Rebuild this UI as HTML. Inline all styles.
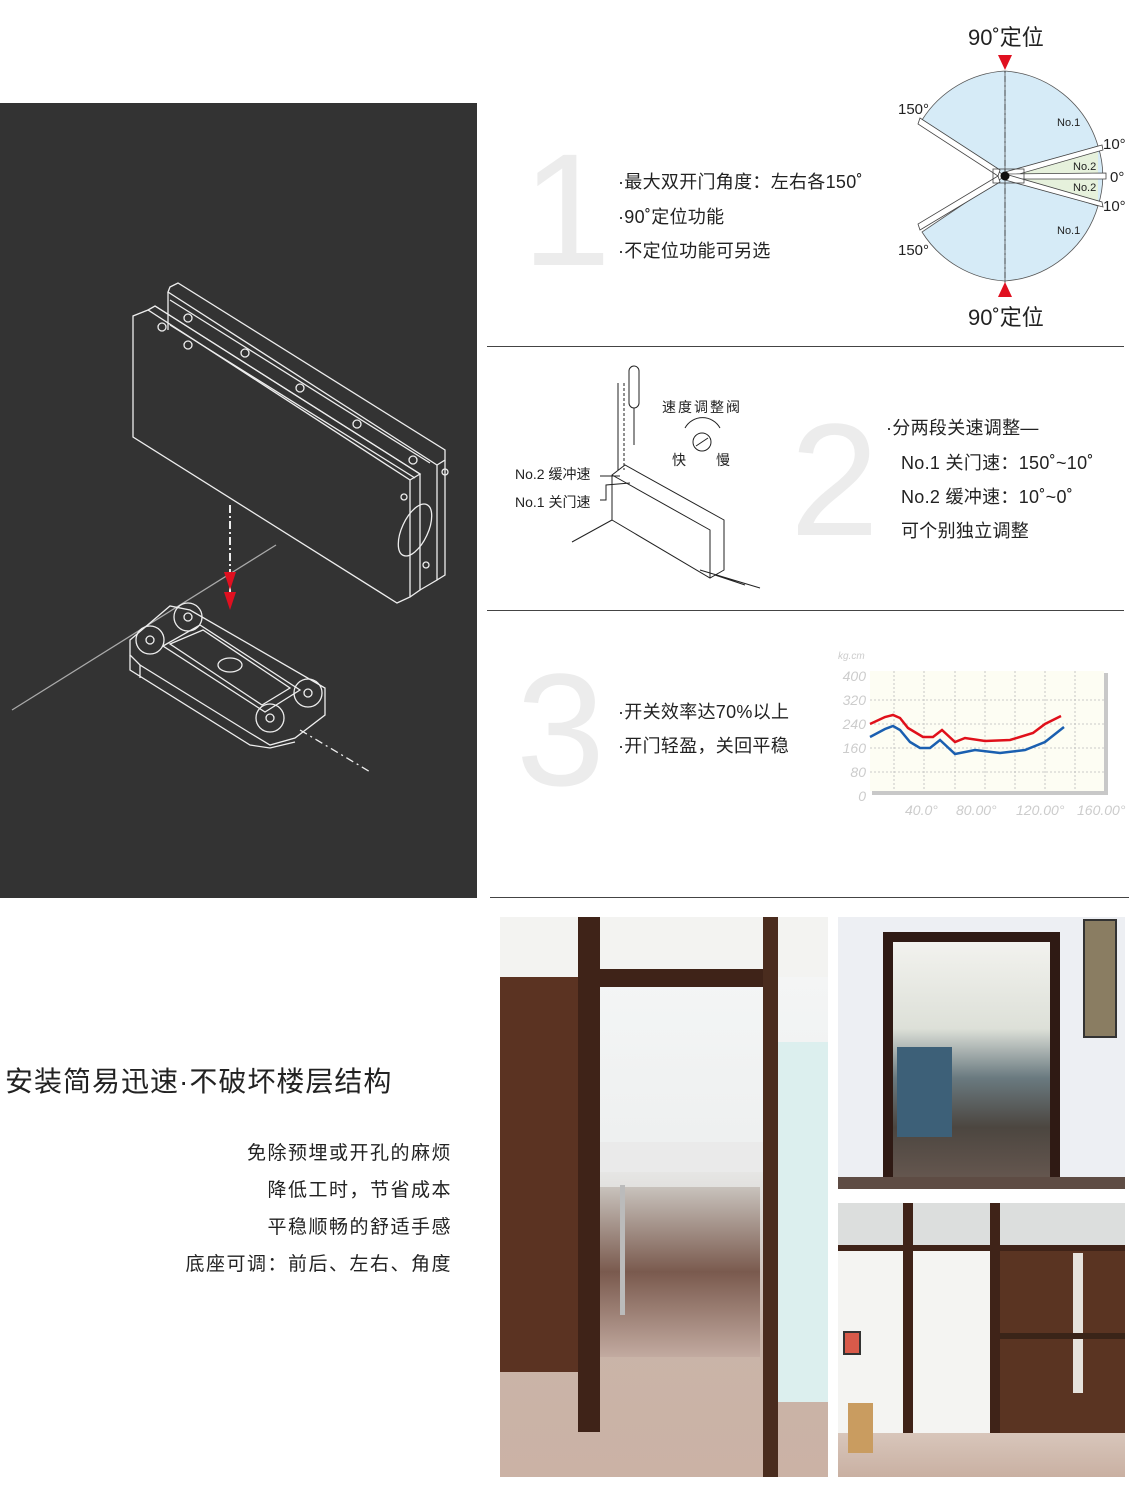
<!DOCTYPE html>
<html><head><meta charset="utf-8"><style>
body{margin:0;width:1129px;height:1501px;background:#fff;position:relative;overflow:hidden;font-family:"Liberation Sans","Noto Sans CJK SC",sans-serif;color:#222}
.a{position:absolute;white-space:nowrap}
.big{font-family:"Liberation Sans",sans-serif;font-weight:300;color:#ececec;font-size:160px;line-height:1}
.t{font-size:18px;letter-spacing:0.3px}
</style></head><body>
<div class="a" style="left:0;top:103px;width:477px;height:795px;background:#333"></div>
<svg class="a" style="left:0;top:103px" width="477" height="795" viewBox="0 103 477 795" fill="none" stroke="#eee" stroke-width="1.3">
<path d="M133 316 L133 437 L397 603 L410 597 L410 480 L148 310 L133 316 Z"/>
<path d="M148 310 L155 306 L420 474 L410 480"/>
<path d="M155 306 L420 474 L420 590 L410 597"/>
<path d="M170 287 L178 283 L445 450 L445 460 L437 465 L168 292 Z"/>
<path d="M168 292 L168 330 M437 465 L437 580 L420 590"/>
<path d="M445 460 L445 575 L437 580"/>
<path d="M170 300 L430 463 M170 325 L415 478"/>
<circle cx="188" cy="318" r="4"/><circle cx="245" cy="353" r="4"/><circle cx="300" cy="388" r="4"/><circle cx="357" cy="424" r="4"/><circle cx="413" cy="460" r="4"/>
<circle cx="162" cy="327" r="4"/><circle cx="188" cy="345" r="4"/><circle cx="445" cy="472" r="3"/><circle cx="404" cy="497" r="3"/><circle cx="426" cy="565" r="3"/>
<ellipse cx="415" cy="530" rx="13" ry="28" transform="rotate(25 415 530)"/>
<path d="M230 505 L230 600" stroke-dasharray="8 3 2 3" stroke-width="2"/>
<path d="M12 710 L276 545" stroke="#aaa"/>
<path d="M300 730 L372 773" stroke-dasharray="8 4 2 4"/>
<path d="M130 640 L170 606 L190 610 L325 688 L325 715 L295 738 L270 745 L250 733 L140 665 L130 655 Z"/>
<path d="M163 646 L200 625 L300 690 L265 712 Z M170 644 L203 630 L290 688 L262 705 Z"/>
<ellipse cx="230" cy="665" rx="12" ry="7"/>
<circle cx="150" cy="640" r="14"/><circle cx="150" cy="640" r="4"/>
<circle cx="188" cy="617" r="14"/><circle cx="188" cy="617" r="4"/>
<circle cx="308" cy="693" r="14"/><circle cx="308" cy="693" r="4"/>
<circle cx="270" cy="718" r="14"/><circle cx="270" cy="718" r="4"/>
<path d="M130 655 L130 670 L250 745 L270 748 L295 742 M140 665 L140 678"/>
<polygon points="224,572 236,572 230,590" fill="#e01020" stroke="none"/>
<polygon points="224,592 236,592 230,610" fill="#e01020" stroke="none"/>
</svg>

<!-- section 1 -->
<div class="a big" style="left:522px;top:130px">1</div>
<div class="a t" style="left:618px;top:168px">·最大双开门角度：左右各150˚</div>
<div class="a t" style="left:618px;top:203px">·90˚定位功能</div>
<div class="a t" style="left:618px;top:237px">·不定位功能可另选</div>
<div class="a" style="left:968px;top:20px;font-size:22px">90˚定位</div>
<div class="a" style="left:968px;top:300px;font-size:22px">90˚定位</div>
<svg class="a" style="left:890px;top:40px" width="239" height="280" viewBox="890 40 239 280" font-family="Liberation Sans" font-size="14">
<path d="M1005 176 L1005 71 A105 105 0 0 0 922 120 Z M1005 176 L1005 281 A105 105 0 0 1 922 232 Z M1005 176 L1098 146 A98 98 0 0 1 1098 206 Z M1005 176 L1005 71 A105 105 0 0 1 1098 146 Z M1005 176 L1005 281 A105 105 0 0 0 1098 206 Z" fill="#d6ebf7" stroke="#555" stroke-width="0.8"/>
<path d="M1005 176 L1098 148 L1098 204 Z" fill="#e6f1dc"/>
<path d="M1005 62 L1005 290" stroke="#333" stroke-dasharray="6 3 2 3" stroke-width="0.8"/>
<g fill="#fff" stroke="#444" stroke-width="0.8">
<polygon points="1000,170 920,118 918,124 998,176"/>
<polygon points="1000,182 920,230 918,224 998,176"/>
<polygon points="1005,172 1102,145 1103,150 1005,178"/>
<polygon points="1005,174 1106,173 1106,179 1005,179"/>
<polygon points="1005,174 1102,202 1103,207 1005,180"/>
<rect x="993" y="169" width="31" height="14" fill="none"/>
</g>
<circle cx="1005" cy="176" r="4.5" fill="#111"/>
<polygon points="998,55 1012,55 1005,70" fill="#e01020"/>
<polygon points="998,297 1012,297 1005,282" fill="#e01020"/>
<g fill="#222"><text x="898" y="114" font-size="15">150°</text><text x="898" y="255" font-size="15">150°</text>
<text x="1103" y="149" font-size="15">10°</text><text x="1110" y="182" font-size="15">0°</text><text x="1103" y="211" font-size="15">10°</text>
<text x="1057" y="126" font-size="11">No.1</text><text x="1057" y="234" font-size="11">No.1</text>
<text x="1073" y="170" font-size="11">No.2</text><text x="1073" y="191" font-size="11">No.2</text></g>
</svg>
<div class="a" style="left:487px;top:346px;width:637px;height:1px;background:#444"></div>

<!-- section 2 -->
<svg class="a" style="left:500px;top:360px" width="270" height="230" viewBox="500 360 270 230" fill="none" stroke="#222" stroke-width="1">
<path d="M618 383 L618 470" /><path d="M624 383 L624 470" stroke-dasharray="3 2"/>
<rect x="629" y="366" width="10" height="42" rx="5"/><path d="M634 408 L634 445"/>
<path d="M612 475 L625 465 L724 520 L724 570 L710 578 L612 520 Z M612 475 L710 530 L710 578 M625 465 L724 520"/>
<path d="M612 520 L572 542 M700 570 L760 588 M715 575 L745 585"/>
<path d="M685 428 A20 20 0 0 1 720 428"/><circle cx="702" cy="442" r="9"/><path d="M696 446 L708 438"/>
<path d="M600 476 L620 476 M600 500 L606 500 L606 485 L630 483"/>
</svg>
<div class="a" style="left:662px;top:397px;font-size:14px;letter-spacing:2px">速度调整阀</div>
<div class="a" style="left:672px;top:450px;font-size:14px">快</div>
<div class="a" style="left:716px;top:450px;font-size:14px">慢</div>
<div class="a" style="left:515px;top:464px;font-size:14px">No.2 缓冲速</div>
<div class="a" style="left:515px;top:492px;font-size:14px">No.1 关门速</div>
<div class="a big" style="left:790px;top:400px">2</div>
<div class="a t" style="left:886px;top:414px">·分两段关速调整—</div>
<div class="a t" style="left:901px;top:449px">No.1 关门速：150˚~10˚</div>
<div class="a t" style="left:901px;top:483px">No.2 缓冲速：10˚~0˚</div>
<div class="a t" style="left:901px;top:517px">可个别独立调整</div>
<div class="a" style="left:487px;top:610px;width:637px;height:1px;background:#444"></div>

<!-- section 3 -->
<div class="a big" style="left:516px;top:650px">3</div>
<div class="a t" style="left:618px;top:698px">·开关效率达70%以上</div>
<div class="a t" style="left:618px;top:732px">·开门轻盈，关回平稳</div>
<svg class="a" style="left:830px;top:645px" width="299" height="180" viewBox="830 645 299 180" font-family="Liberation Sans" font-style="italic" fill="#ccc">
<rect x="872" y="673" width="236" height="122" fill="#c8c8c8"/>
<rect x="870" y="671" width="234" height="120" fill="#fdfdf3"/>
<g stroke="#bbb" stroke-dasharray="2 2" stroke-width="0.8">
<path d="M870 700 H1104 M870 724 H1104 M870 748 H1104 M870 772 H1104 M894 671 V791 M924 671 V791 M955 671 V791 M985 671 V791 M1015 671 V791 M1045 671 V791 M1075 671 V791"/></g>
<path d="M870 724 L885 717 L893 715 L900 718 L908 728 L923 737 L933 737 L942 730 L955 742 L965 738 L985 741 L1010 740 L1033 733 L1045 724 L1061 716" stroke="#e0101a" stroke-width="2.5" fill="none"/>
<path d="M870 737 L885 729 L893 726 L900 730 L910 742 L920 748 L930 748 L940 740 L955 754 L975 750 L1000 753 L1025 750 L1045 742 L1064 727" stroke="#1a5fb0" stroke-width="2.5" fill="none"/>
<text x="838" y="659" font-size="10">kg.cm</text>
<g font-size="14" text-anchor="end"><text x="866" y="681">400</text><text x="866" y="705">320</text><text x="866" y="729">240</text><text x="866" y="753">160</text><text x="866" y="777">80</text><text x="866" y="801">0</text></g>
<g font-size="14"><text x="905" y="815">40.0°</text><text x="956" y="815">80.00°</text><text x="1016" y="815">120.00°</text><text x="1077" y="815">160.00°</text></g>
</svg>
<div class="a" style="left:490px;top:897px;width:639px;height:1px;background:#444"></div>

<!-- bottom left text -->
<div class="a" style="left:5px;top:1060px;font-size:28px;letter-spacing:1px">安装简易迅速·不破坏楼层结构</div>
<div class="a" style="right:677px;top:1138px;font-size:19px;letter-spacing:1.5px;text-align:right">免除预埋或开孔的麻烦</div>
<div class="a" style="right:677px;top:1175px;font-size:19px;letter-spacing:1.5px">降低工时，节省成本</div>
<div class="a" style="right:677px;top:1212px;font-size:19px;letter-spacing:1.5px">平稳顺畅的舒适手感</div>
<div class="a" style="right:677px;top:1249px;font-size:19px;letter-spacing:1.5px">底座可调：前后、左右、角度</div>

<!-- photo 1 -->
<div class="a" style="left:500px;top:917px;width:328px;height:560px;overflow:hidden;background:linear-gradient(180deg,#f6f7f7 0,#eef0f0 40%,#d8d4d0 55%,#c9b4a8 75%,#cbb2a5 100%)">
  <div class="a" style="left:0;top:0;width:328px;height:60px;background:#f3f3f1"></div>
  <div class="a" style="left:100px;top:225px;width:165px;height:30px;background:#eaeaea"></div>
  <div class="a" style="left:100px;top:270px;width:160px;height:170px;background:linear-gradient(180deg,#c8c2bc,#7a5a4e 50%,#c2aaa0)"></div>
  <div class="a" style="left:0;top:60px;width:80px;height:395px;background:#5b3322"></div>
  <div class="a" style="left:78px;top:0;width:22px;height:515px;background:#3f2318"></div>
  <div class="a" style="left:100px;top:52px;width:175px;height:18px;background:#3f2318"></div>
  <div class="a" style="left:263px;top:0;width:15px;height:560px;background:#4a2c1e"></div>
  <div class="a" style="left:278px;top:125px;width:50px;height:360px;background:#dcefee"></div>
  <div class="a" style="left:120px;top:268px;width:5px;height:130px;background:#bbb"></div>
</div>
<!-- photo 2 -->
<div class="a" style="left:838px;top:917px;width:287px;height:272px;overflow:hidden;background:#edeff3">
  <div class="a" style="left:45px;top:15px;width:177px;height:257px;background:#2f1a14"></div>
  <div class="a" style="left:55px;top:25px;width:157px;height:247px;background:linear-gradient(180deg,#f2f2ee 0,#dde0d8 35%,#6a7a80 55%,#4c4640 75%,#6a5a52 100%)"></div>
  <div class="a" style="left:59px;top:130px;width:55px;height:90px;background:#3d6078"></div>
  <div class="a" style="left:0;top:260px;width:287px;height:12px;background:#5e4c44"></div>
  <div class="a" style="left:245px;top:2px;width:30px;height:115px;background:#8a7d62;border:2px solid #333"></div>
</div>
<!-- photo 3 -->
<div class="a" style="left:838px;top:1203px;width:287px;height:274px;overflow:hidden;background:#f4f4f2">
  <div class="a" style="left:0;top:0;width:287px;height:45px;background:#dcdedd"></div>
  <div class="a" style="left:160px;top:45px;width:127px;height:200px;background:#5a3422"></div>
  <div class="a" style="left:235px;top:50px;width:10px;height:140px;background:#e6e2dc"></div>
  <div class="a" style="left:160px;top:130px;width:127px;height:6px;background:#3a2418"></div>
  <div class="a" style="left:65px;top:0;width:10px;height:274px;background:#3f2318"></div>
  <div class="a" style="left:152px;top:0;width:10px;height:274px;background:#3f2318"></div>
  <div class="a" style="left:0;top:42px;width:287px;height:6px;background:#3f2318"></div>
  <div class="a" style="left:0;top:230px;width:287px;height:44px;background:linear-gradient(180deg,#d8c6bb,#c9b0a2)"></div>
  <div class="a" style="left:5px;top:128px;width:14px;height:20px;background:#d85a4a;border:2px solid #333"></div>
  <div class="a" style="left:10px;top:200px;width:25px;height:50px;background:#c99c60"></div>
</div>
</body></html>
